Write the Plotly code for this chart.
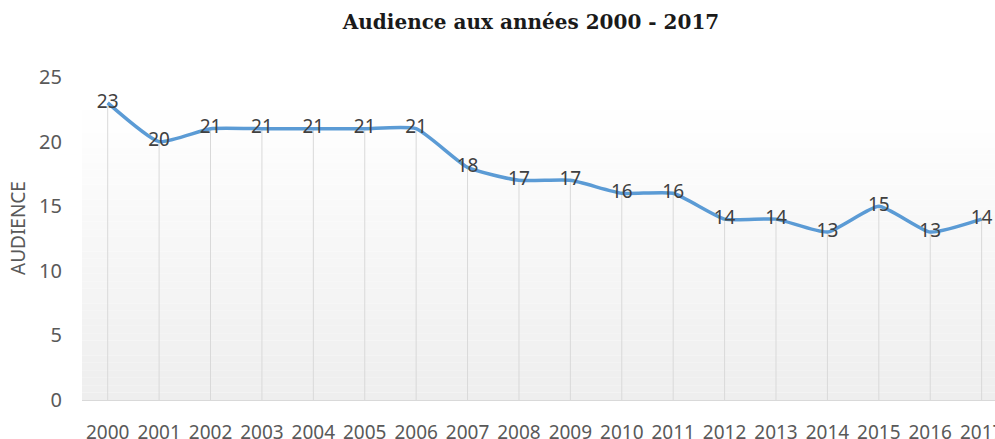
import plotly.graph_objects as go

years = [str(y) for y in range(2000, 2018)]
audience = [23, 20, 21, 21, 21, 21, 21, 18, 17, 17, 16, 16, 14, 14, 13, 15, 13, 14]
y_ticks = [0, 5, 10, 15, 20, 25]
title_text = "Audience aux années 2000 - 2017"
y_title = "AUDIENCE"

fig = go.Figure()

# gradient background (bands)
n_bands = 40
top_val, bottom_val = 23.0, 0.0
c_top, c_bot = 255, 238
for i in range(n_bands):
    y0 = bottom_val + (top_val - bottom_val) * i / n_bands
    y1 = bottom_val + (top_val - bottom_val) * (i + 1) / n_bands
    frac = (i + 0.5) / n_bands
    c = round(c_bot + (c_top - c_bot) * frac)
    fig.add_shape(type="rect", xref="paper", yref="y", x0=0, x1=1, y0=y0, y1=y1,
                  fillcolor=f"rgb({c},{c},{c})", line_width=0, layer="below")

# drop lines
fig.add_trace(go.Scatter(
    x=years, y=audience, mode="markers", marker=dict(size=0.1, opacity=0),
    error_y=dict(type="data", symmetric=False, array=[0] * len(audience),
                 arrayminus=audience, color="#d9d9d9", thickness=1, width=0),
    hoverinfo="skip", showlegend=False))

fig.add_trace(go.Scatter(
    x=years, y=audience, mode="lines+text",
    line=dict(color="#5B9BD5", width=3.5, shape="spline", smoothing=0.5),
    text=[str(v) for v in audience], textposition="middle center",
    textfont=dict(family="Noto Sans", size=19, color="#404040"),
    showlegend=False))

W, H = 995, 439
L, T, B, R = 82, 77, 39, 0
fig.update_layout(
    width=W, height=H,
    margin=dict(l=L, r=R, t=T, b=B, autoexpand=False),
    paper_bgcolor="white", plot_bgcolor="white",
    title=dict(text=title_text, x=531 / W, xanchor="center", y=1 - 22 / H, yanchor="middle",
               font=dict(family="DejaVu Serif", size=20, color="#1a1a1a", weight="bold")),
    xaxis=dict(type="category", range=[-0.5, 17.26], showgrid=False, zeroline=False,
               showline=True, linecolor="#d9d9d9", linewidth=1, automargin=False,
               ticks="", tickfont=dict(family="Noto Sans", size=19, color="#595959"),
               ticklabelstandoff=15),
    yaxis=dict(range=[0, 25], tickvals=y_ticks, showgrid=False, zeroline=False,
               showline=False, ticks="", automargin=False,
               tickfont=dict(family="Noto Sans", size=20, color="#595959"),
               ticklabelstandoff=19),
    annotations=[dict(text=y_title, textangle=-90, showarrow=False,
                      xref="paper", yref="paper",
                      x=(18 - L) / (W - L - R), y=(H - B - 228) / (H - T - B),
                      xanchor="center", yanchor="middle",
                      font=dict(family="Noto Sans", size=19, color="#595959"))],
)

fig.write_html("out.html", config={"displayModeBar": False},
               post_script="document.body.style.margin='0';")
